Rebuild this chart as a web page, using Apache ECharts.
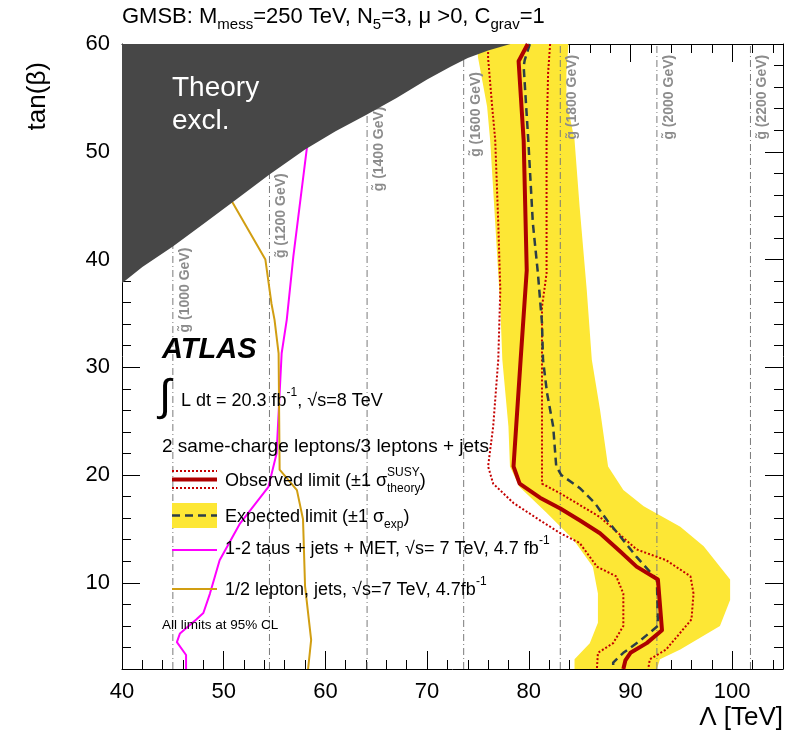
<!DOCTYPE html>
<html>
<head>
<meta charset="utf-8">
<title>GMSB tan(beta) vs Lambda</title>
<script src="https://cdn.jsdelivr.net/npm/echarts@6.0.0/dist/echarts.min.js"></script>
<style>
html, body { margin: 0; padding: 0; background: #fff; }
#chart { width: 796px; height: 742px; }
</style>
</head>
<body>
<div id="chart"></div>
<script>
// tick values
var xMajor = [40, 50, 60, 70, 80, 90, 100];
var xMinor = [42, 44, 46, 48, 52, 54, 56, 58, 62, 64, 66, 68, 72, 74, 76, 78, 82, 84, 86, 88, 92, 94, 96, 98, 102, 104];
var yMajor = [10, 20, 30, 40, 50, 60];
var yMinor = [4, 6, 8, 12, 14, 16, 18, 22, 24, 26, 28, 32, 34, 36, 38, 42, 44, 46, 48, 52, 54, 56, 58];

// gluino mass contours (dash-dot)
var gluinoMass = [1000, 1200, 1400, 1600, 1800, 2000, 2200];
var gluinoLambda = [45.0, 54.5, 64.1, 73.6, 83.1, 92.6, 101.8];
var gluinoLabelTop = [41.1, 48.0, 54.2, 57.4, 59.0, 59.0, 59.0];

// theory excluded boundary
var theoryLambda = [40, 42, 45, 48, 51, 54.5, 58, 61, 64, 67, 70, 72.3, 74, 76, 78.2];
var theoryTanb = [37.8, 39.3, 41.2, 43.3, 45.4, 47.9, 50.2, 51.9, 53.4, 55.0, 56.7, 57.9, 58.7, 59.4, 60];

// observed limit
var obsTanb = [60, 58.4, 51, 39, 30.7, 20.8, 19.2, 17.9, 16.9, 15.8, 14.6, 12.9, 11.5, 10.3, 5.6, 4.4, 3.5, 2.8, 2];
var obsLambda = [79.9, 79.0, 79.5, 79.8, 79.2, 78.5, 79.1, 81.1, 83.1, 85.0, 87.0, 89.0, 90.6, 92.7, 93.1, 91.6, 90.0, 89.5, 89.3];
// observed -1 sigma theory
var obsDownTanb = [60, 58.7, 54.2, 51.1, 43.4, 37.2, 30.7, 24.5, 20.8, 19.2, 17.4, 15.8, 14.6, 13.7, 11.5, 10.6, 9.0, 6.0, 4.4, 3.5, 2];
var obsDownLambda = [76.0, 76.0, 76.4, 76.7, 77.0, 77.2, 77.0, 76.5, 76.0, 76.5, 78.5, 81.1, 83.1, 85.0, 86.7, 88.6, 89.3, 89.3, 88.3, 86.8, 86.7];
// observed +1 sigma theory
var obsUpTanb = [60, 57.3, 51.1, 38.7, 35.6, 30.7, 19.2, 18.3, 16.1, 13.1, 12.1, 10.6, 9.0, 6.6, 3.8, 2.9, 2];
var obsUpLambda = [82.1, 81.9, 81.75, 81.75, 81.3, 81.3, 81.3, 83.1, 87.0, 90.6, 93.5, 95.9, 96.2, 96.0, 93.5, 91.9, 91.75];

// expected limit
var expTanb = [60, 58.5, 57.9, 51.1, 43.4, 38.7, 34.1, 30.7, 27.6, 24.5, 20.8, 20.0, 18.8, 17.4, 15.8, 14.3, 12.4, 10.3, 6.0, 4.6, 3.5, 2.6, 2];
var expLambda = [80.1, 79.6, 79.5, 79.95, 80.4, 80.9, 81.3, 81.4, 81.8, 82.4, 82.7, 83.2, 85.0, 86.5, 87.7, 89.0, 90.6, 92.6, 92.7, 90.9, 89.3, 88.3, 88.3];
// expected +-1 sigma band edges
var bandLeftTanb = [60, 59.1, 58.8, 54.2, 51.1, 43.4, 35.6, 30.7, 24.5, 20.8, 18.9, 16.5, 14.0, 11.5, 9.0, 6.3, 4.4, 2.9, 2];
var bandLeftLambda = [74.8, 75.0, 75.0, 75.9, 76.2, 76.7, 77.2, 77.4, 78.0, 78.15, 79.1, 81.75, 84.4, 86.3, 86.8, 86.8, 86.0, 84.5, 84.5];
var bandRightTanb = [60, 57.3, 54.8, 51.1, 44.9, 37.2, 30.7, 26.1, 20.8, 18.6, 17.1, 15.2, 13.4, 10.3, 8.4, 6.0, 3.8, 2.9, 2];
var bandRightLambda = [83.9, 83.7, 83.7, 84.5, 85.0, 85.7, 86.2, 87.0, 87.8, 89.3, 91.3, 94.9, 97.2, 99.8, 99.8, 98.8, 94.9, 92.9, 92.6];

// 7 TeV results
var tauTanb = [50.5, 40.3, 34.4, 31.3, 22.0, 18.9, 15.5, 12.1, 9.0, 7.2, 6.6, 5.3, 4.5, 3.3, 2];
var tauLambda = [58.2, 56.85, 56.2, 55.7, 55.2, 54.4, 51.6, 49.6, 48.65, 48.0, 47.3, 45.7, 45.4, 46.3, 46.3];
var lepTanb = [45.4, 40.0, 35.9, 34.4, 31.3, 20.5, 18.6, 15.9, 9.7, 4.7, 2];
var lepLambda = [50.8, 54.1, 54.7, 55.0, 55.4, 55.5, 57.2, 57.8, 58.0, 58.6, 58.3];

var FONT = '"Liberation Sans", Arial, Helvetica, sans-serif';
var RED = '#ad0000';
var DOT_RED = '#c40000';
var DASH = '#2c3e48';
var YELLOW = '#fde735';
var DARK = '#474747';
var MAGENTA = '#ff00ff';
var GOLD = '#d19e12';

var measureCtx = document.createElement('canvas').getContext('2d');
function textWidth(str, size) {
	measureCtx.font = size + 'px ' + FONT;
	return measureCtx.measureText(str).width;
}

function pairs(xs, ys) {
	return xs.map(function(x, i) {
		return [x, ys[i]];
	});
}

//坐标框 (ticks on all four sides)
function frameAxes(min, max, major, minor, sides) {
	var out = [];
	sides.forEach(function(side, k) {
		out.push({
			type: 'value', min: min, max: max, position: side,
			axisLine: { show: true, onZero: false, lineStyle: { color: '#000', width: 1 } },
			axisTick: { show: true, inside: true, length: 18, customValues: major, lineStyle: { color: '#000', width: 1 } },
			axisLabel: { show: k === 0, customValues: major, fontSize: 22, color: '#000', fontFamily: FONT, margin: 12 },
			splitLine: { show: false }
		});
		out.push({
			type: 'value', min: min, max: max, position: side,
			axisLine: { show: false, onZero: false },
			axisTick: { show: true, inside: true, length: 9, customValues: minor, lineStyle: { color: '#000', width: 1 } },
			axisLabel: { show: false },
			splitLine: { show: false }
		});
	});
	return out;
}

function lineSeries(xs, ys, color, width, type, z) {
	return {
		type: 'line', data: pairs(xs, ys), xAxisIndex: 0, yAxisIndex: 0,
		symbol: 'none', showSymbol: false, silent: true, animation: false, z: z,
		lineStyle: { color: color, width: width, type: type, cap: 'butt', join: 'round' }
	};
}

var baseRich = {
	m: { fontSize: 18, lineHeight: 28, fontFamily: FONT, fill: '#000' },
	sup: { fontSize: 12, lineHeight: 12, fontFamily: FONT, fill: '#000', verticalAlign: 'top' },
	sub: { fontSize: 12, lineHeight: 12, fontFamily: FONT, fill: '#000', verticalAlign: 'bottom' }
};

function richText(x, y, text, rich) {
	return {
		type: 'text', x: x, y: y, z: 100, silent: true,
		style: { text: text, rich: rich || baseRich, align: 'left', verticalAlign: 'middle' }
	};
}

function plainText(x, y, text, size, extra, rotation) {
	var st = { text: text, fontSize: size, fontFamily: FONT, fill: '#000', align: 'left', verticalAlign: 'middle' };
	for (var k in extra) st[k] = extra[k];
	return { type: 'text', x: x, y: y, z: 100, silent: true, rotation: rotation || 0, style: st };
}

function hline(x1, x2, y, color, width, dash) {
	return {
		type: 'line', z: 100, silent: true,
		shape: { x1: x1, y1: y, x2: x2, y2: y },
		style: { stroke: color, lineWidth: width, lineDash: dash || null }
	};
}

var LX = 225;
var obsStr = 'Observed limit (\u00b11 \u03c3';

var graphics = [
	// title
	richText(122, 17, '{m|GMSB: M}{s|mess}{m|=250 TeV, N}{s|5}{m|=3, \u03bc >0, C}{s|grav}{m|=1}', {
		m: { fontSize: 22, lineHeight: 30, fontFamily: FONT, fill: '#000' },
		s: { fontSize: 15, lineHeight: 12, fontFamily: FONT, fill: '#000', verticalAlign: 'bottom' }
	}),
	// axis names
	plainText(38, 62, 'tan(\u03b2)', 26, { align: 'right' }, Math.PI / 2),
	plainText(783, 718, '\u039b [TeV]', 26, { align: 'right' }),
	// theory excluded label
	plainText(172, 88, 'Theory', 28, { fill: '#fff' }),
	plainText(172, 121, 'excl.', 28, { fill: '#fff' }),
	// ATLAS block
	plainText(162, 350, 'ATLAS', 29, { fontWeight: 'bold', fontStyle: 'italic' }),
	plainText(159, 398, '\u222b', 44, {}),
	richText(181, 401, '{m|L dt = 20.3 fb}{sup|-1}{m|, \u221as=8 TeV}'),
	plainText(162, 447, '2 same-charge leptons/3 leptons + jets', 19, {}),
	// legend samples
	hline(172, 217, 471, DOT_RED, 2, [2, 2]),
	hline(172, 217, 488, DOT_RED, 2, [2, 2]),
	hline(172, 217, 479.5, RED, 4),
	{ type: 'rect', z: 99, silent: true, shape: { x: 172, y: 503, width: 45, height: 25 }, style: { fill: YELLOW } },
	hline(172, 217, 515.5, DASH, 2.5, [8, 5]),
	hline(172, 217, 550, MAGENTA, 2),
	hline(172, 217, 589, GOLD, 2),
	// legend texts
	richText(LX, 481, '{m|' + obsStr + '}{sup|SUSY}{m|)}'),
	plainText(LX + textWidth(obsStr, 18), 489, 'theory', 12, {}),
	richText(LX, 517, '{m|Expected limit (\u00b11 \u03c3}{sub|exp}{m|)}'),
	richText(LX, 549, '{m|1-2 taus + jets + MET, \u221as= 7 TeV, 4.7 fb}{sup|-1}'),
	richText(LX, 590, '{m|1/2 lepton, jets, \u221as=7 TeV, 4.7fb}{sup|-1}'),
	plainText(162, 625, 'All limits at 95% CL', 13.5, {})
];

var chart = echarts.init(document.getElementById('chart'), null, { renderer: 'canvas' });

var option = {
	animation: false,
	backgroundColor: '#fff',
	grid: { left: 122, top: 44, right: 13, bottom: 73, outerBoundsMode: 'none', containLabel: false },
	xAxis: frameAxes(40, 105, xMajor, xMinor, ['bottom', 'top']),
	yAxis: frameAxes(2, 60, yMajor, yMinor, ['left', 'right']),
	series: [
		// expected +-1 sigma band
		{
			type: 'custom', coordinateSystem: 'cartesian2d', xAxisIndex: 0, yAxisIndex: 0,
			data: [[80, 30]], silent: true, z: 1, clip: true,
			renderItem: function(params, api) {
				if (params.dataIndex !== 0) return;
				var pts = [];
				bandLeftLambda.forEach(function(l, i) {
					pts.push(api.coord([l, bandLeftTanb[i]]));
				});
				for (var i = bandRightLambda.length - 1; i >= 0; i--) {
					pts.push(api.coord([bandRightLambda[i], bandRightTanb[i]]));
				}
				return { type: 'polygon', shape: { points: pts }, style: { fill: YELLOW } };
			}
		},
		// gluino mass lines
		{
			type: 'custom', coordinateSystem: 'cartesian2d', xAxisIndex: 0, yAxisIndex: 0,
			data: gluinoLambda.map(function(l, i) {
				return [l, gluinoLabelTop[i], gluinoMass[i]];
			}),
			silent: true, z: 2, clip: true,
			renderItem: function(params, api) {
				var x = api.value(0);
				var p0 = api.coord([x, 2]);
				var p1 = api.coord([x, 60]);
				var lab = api.coord([x, api.value(1)]);
				return {
					type: 'group',
					children: [{
						type: 'line',
						shape: { x1: p0[0], y1: p0[1], x2: p1[0], y2: p1[1] },
						style: { stroke: '#7a7a7a', lineWidth: 1, lineDash: [7, 3, 1, 3] }
					}, {
						type: 'text', x: lab[0] + 12, y: lab[1], rotation: Math.PI / 2,
						style: {
							text: 'g\u0303 (' + api.value(2) + ' GeV)',
							fontSize: 14, fontWeight: 'bold', fontFamily: FONT, fill: '#8c8c8c',
							align: 'right', verticalAlign: 'middle'
						}
					}]
				};
			}
		},
		lineSeries(obsDownLambda, obsDownTanb, DOT_RED, 2, [2, 2], 3),
		lineSeries(obsUpLambda, obsUpTanb, DOT_RED, 2, [2, 2], 3),
		lineSeries(expLambda, expTanb, DASH, 2.5, [8, 5], 3),
		lineSeries(obsLambda, obsTanb, RED, 4, 'solid', 4),
		lineSeries(tauLambda, tauTanb, MAGENTA, 2, 'solid', 3),
		lineSeries(lepLambda, lepTanb, GOLD, 2, 'solid', 3),
		// theory excluded region
		{
			type: 'custom', coordinateSystem: 'cartesian2d', xAxisIndex: 0, yAxisIndex: 0,
			data: [[40, 60]], silent: true, z: 6, clip: true,
			renderItem: function(params, api) {
				if (params.dataIndex !== 0) return;
				var pts = theoryLambda.map(function(l, i) {
					return api.coord([l, theoryTanb[i]]);
				});
				pts.push(api.coord([40, 60]));
				return { type: 'polygon', shape: { points: pts }, style: { fill: DARK } };
			}
		}
	],
	graphic: graphics
};

chart.setOption(option);
</script>
</body>
</html>
